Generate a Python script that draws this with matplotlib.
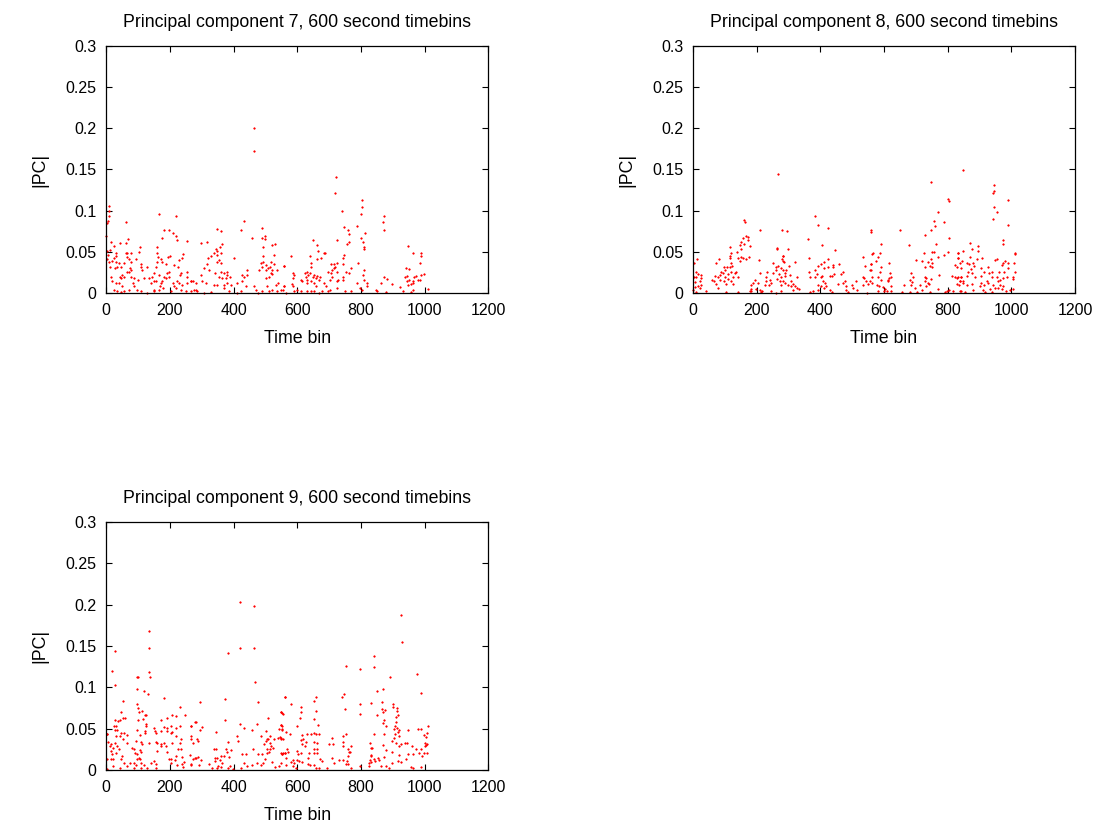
import numpy as np
import matplotlib
matplotlib.use("Agg")
import matplotlib.pyplot as plt

# (time bin, |PC|) pairs, one list per component
pc7_points = [
    (10, .106), (8, .100), (8, .094), (5, .088), (3, .085), (0, .069), (63, .086), (166, .096),
    (218, .093), (181, .077), (197, .076), (211, .073), (218, .069), (221, .064), (252, .063),
    (176, .067), (68, .066), (16, .062), (24, .057), (43, .061), (61, .061), (12, .052), (3, .051),
    (5, .046), (29, .048), (32, .045), (24, .042), (1, .041), (8, .038), (19, .039), (29, .038),
    (40, .036), (56, .037), (61, .048), (66, .049), (77, .048), (64, .044), (71, .041), (77, .038),
    (92, .041), (106, .056), (103, .050), (108, .035), (108, .032), (113, .028), (12, .032),
    (35, .032), (26, .030), (45, .032), (74, .030), (79, .028), (71, .026), (66, .025), (50, .022),
    (43, .020), (56, .020), (47, .018), (14, .020), (19, .015), (29, .012), (40, .012), (50, .008),
    (77, .020), (87, .018), (100, .016), (85, .012), (87, .008), (71, .004), (97, .004), (56, .002),
    (45, .001), (35, .002), (24, .004), (108, .002), (129, .000), (150, .002), (166, .004),
    (179, .006), (202, .002), (218, .006), (234, .004), (249, .002), (265, .002), (276, .004),
    (255, .012), (265, .015), (239, .010), (228, .012), (223, .014), (208, .012), (213, .008),
    (145, .020), (150, .024), (155, .032), (160, .038), (162, .044), (160, .056), (158, .048),
    (171, .041), (176, .038), (187, .035), (195, .044), (200, .045), (192, .024), (197, .026),
    (181, .020), (166, .022), (155, .015), (171, .012), (176, .014), (187, .018), (197, .020),
    (213, .034), (225, .032), (228, .040), (239, .042), (242, .047), (236, .024), (232, .022),
    (253, .026), (255, .020), (150, .014), (134, .018), (141, .012), (150, .004), (169, .008),
    (129, .032), (118, .018),
    (464, .200), (464, .172), (433, .087), (422, .076), (347, .078), (361, .075), (459, .067),
    (488, .079), (488, .067), (498, .069), (498, .065), (296, .061), (317, .062), (365, .059),
    (357, .056), (344, .054), (347, .051), (338, .048), (349, .046), (359, .048), (330, .045),
    (320, .043), (401, .043), (354, .040), (349, .038), (359, .036), (315, .035), (307, .030),
    (323, .028), (340, .024), (359, .026), (370, .024), (378, .026), (380, .022), (389, .020),
    (375, .018), (354, .020), (365, .018), (296, .022), (302, .014), (312, .012), (338, .010),
    (349, .010), (370, .010), (380, .012), (391, .010), (281, .004), (286, .002), (307, .000),
    (328, .001), (370, .006), (386, .002), (412, .000), (422, .002), (412, .012), (427, .014),
    (427, .022), (433, .020), (443, .022), (441, .028), (438, .008), (464, .008), (469, .004),
    (475, .000), (490, .002), (504, .008), (511, .002), (522, .004), (537, .002), (548, .004),
    (558, .008), (532, .010), (501, .018), (511, .020), (517, .024), (522, .028), (508, .030),
    (501, .028), (490, .032), (480, .028), (485, .036), (493, .038), (501, .034), (514, .032),
    (517, .038), (527, .035), (535, .028), (522, .023), (527, .046), (493, .045), (493, .056),
    (522, .058), (529, .059), (558, .033), (540, .012), (265, .014), (273, .015), (281, .012),
    (721, .141), (719, .122), (803, .113), (802, .105), (799, .096), (740, .100), (747, .080),
    (760, .077), (761, .072), (789, .081), (799, .067), (805, .062), (808, .056), (810, .053),
    (812, .073), (763, .062), (756, .060), (768, .030), (753, .026), (763, .024), (747, .046),
    (742, .042), (744, .035), (716, .035), (719, .032), (724, .064), (714, .030), (705, .024),
    (710, .020), (703, .016), (724, .014), (742, .020), (742, .016), (726, .006), (749, .002),
    (768, .002), (789, .012), (797, .006), (803, .004), (820, .012), (818, .008), (810, .016),
    (805, .022), (808, .028), (791, .037), (684, .048), (686, .049), (663, .058), (649, .064),
    (665, .051), (674, .042), (661, .041), (639, .045), (644, .037), (644, .032), (632, .026),
    (634, .022), (640, .024), (648, .020), (653, .022), (658, .018), (663, .021), (669, .016),
    (672, .020), (623, .024), (627, .020), (630, .016), (616, .015), (611, .016), (632, .012),
    (642, .014), (653, .012), (658, .008), (684, .012), (689, .008), (679, .002), (695, .002),
    (703, .004), (669, .000), (653, .002), (642, .002), (632, .002), (611, .002), (600, .004),
    (590, .002), (585, .008), (583, .011), (588, .018), (588, .024), (590, .022), (579, .045),
    (558, .033), (558, .008), (556, .004), (564, .000), (724, .026), (728, .016), (710, .028),
    (695, .026), (705, .035), (726, .036),
    (871, .094), (868, .086), (873, .076), (948, .057), (965, .049), (988, .049), (988, .045),
    (985, .037), (943, .030), (952, .029), (873, .020), (881, .017), (862, .012), (897, .011),
    (847, .004), (849, .002), (878, .001), (922, .007), (931, .003), (938, .020), (946, .021),
    (944, .015), (952, .016), (957, .011), (962, .012), (964, .015), (967, .020), (972, .021),
    (978, .016), (986, .016), (988, .022), (997, .023), (962, .004), (957, .001), (948, .010),
    (1011, .005),
]

pc8_points = [
    (267, .144), (160, .089), (162, .086), (211, .076), (280, .076), (167, .069), (173, .068),
    (157, .067), (173, .064), (152, .062), (160, .060), (146, .058), (178, .057), (115, .056),
    (150, .054), (139, .050), (118, .048), (152, .044), (157, .043), (141, .042), (167, .041),
    (146, .039), (117, .045), (115, .042), (175, .044), (265, .055), (265, .053), (283, .045),
    (281, .039), (12, .041), (81, .041), (71, .037), (3, .037), (206, .040), (120, .037),
    (123, .033), (108, .032), (115, .031), (97, .031), (99, .028), (118, .026), (136, .026),
    (131, .024), (110, .023), (94, .024), (87, .025), (84, .022), (78, .020), (70, .021),
    (101, .020), (125, .020), (141, .020), (110, .017), (97, .015), (102, .011), (84, .016),
    (73, .011), (66, .015), (59, .016), (120, .014), (125, .011), (10, .026), (15, .023),
    (24, .022), (26, .018), (10, .019), (3, .020), (5, .013), (21, .014), (26, .010), (15, .009),
    (5, .007), (21, .006), (0, .004), (10, .001), (42, .002), (78, .006), (105, .001), (141, .001),
    (178, .002), (183, .003), (199, .005), (209, .004), (217, .003), (212, .001), (188, .012),
    (183, .010), (194, .016), (204, .012), (209, .024), (225, .010), (230, .014), (230, .020),
    (233, .026), (241, .016), (238, .010), (246, .012), (251, .024), (251, .036), (259, .032),
    (262, .028), (267, .033), (269, .023), (265, .017), (272, .015), (277, .010), (259, .000),
    (246, .002), (283, .028), (183, .005),
    (384, .094), (391, .082), (424, .079), (296, .075), (361, .065), (406, .058), (298, .053),
    (445, .052), (363, .042), (560, .076), (558, .074), (564, .048), (534, .044), (282, .045),
    (285, .038), (280, .041), (319, .038), (302, .033), (424, .041), (412, .038), (403, .035),
    (391, .033), (440, .034), (440, .032), (458, .035), (424, .031), (412, .030), (363, .026),
    (382, .028), (388, .023), (401, .020), (405, .021), (429, .021), (435, .021), (443, .023),
    (464, .023), (471, .026), (382, .020), (367, .020), (291, .028), (277, .030), (288, .024),
    (275, .020), (290, .021), (304, .022), (325, .020), (283, .014), (288, .012), (309, .014),
    (314, .011), (309, .008), (319, .008), (325, .006), (332, .005), (314, .004), (298, .010),
    (275, .002), (367, .001), (377, .003), (391, .010), (391, .004), (403, .008), (408, .014),
    (414, .012), (419, .009), (412, .006), (429, .004), (435, .001), (456, .011), (471, .012),
    (477, .014), (479, .009), (482, .004), (487, .001), (500, .010), (503, .006), (511, .014),
    (516, .004), (534, .020), (537, .018), (542, .014), (548, .011), (555, .014), (534, .010),
    (545, .000), (560, .035), (556, .028), (563, .020), (539, .033),
    (849, .149), (747, .135), (802, .114), (804, .112), (768, .098), (758, .088), (789, .086),
    (760, .081), (749, .076), (649, .076), (728, .071), (804, .067), (590, .060), (678, .058),
    (762, .059), (757, .050), (752, .050), (726, .049), (802, .050), (833, .049), (849, .051),
    (563, .047), (581, .044), (587, .049), (576, .039), (768, .044), (789, .046), (747, .041),
    (700, .040), (720, .039), (739, .038), (751, .036), (744, .033), (730, .032), (751, .031),
    (833, .042), (838, .036), (822, .034), (828, .032), (841, .030), (558, .035), (560, .028),
    (590, .032), (615, .037), (587, .025), (581, .020), (590, .016), (563, .012), (579, .010),
    (584, .008), (597, .007), (602, .005), (608, .002), (600, .002), (615, .018), (618, .024),
    (621, .020), (613, .016), (613, .014), (623, .009), (621, .003), (581, .003), (663, .010),
    (655, .001), (681, .016), (681, .001), (686, .024), (691, .020), (688, .013), (684, .010),
    (697, .006), (702, .001), (712, .010), (718, .004), (728, .020), (733, .018), (730, .014),
    (737, .012), (733, .009), (741, .011), (749, .017), (744, .001), (770, .005), (772, .022),
    (791, .001), (799, .002), (804, .004), (812, .021), (822, .020), (828, .018), (833, .020),
    (838, .014), (828, .011), (835, .010), (843, .020), (847, .014), (841, .002), (817, .003),
    (946, .131), (946, .124), (943, .122), (988, .113), (946, .104), (954, .098), (943, .090),
    (988, .082), (974, .064), (974, .059), (870, .061), (896, .057), (894, .051), (875, .053),
    (833, .049), (908, .043), (1011, .048), (1011, .047), (870, .044), (891, .041), (954, .041),
    (948, .040), (980, .039), (846, .039), (859, .036), (868, .035), (880, .036), (833, .042),
    (974, .036), (969, .034), (990, .036), (1009, .037), (925, .032), (906, .030), (883, .033),
    (873, .029), (864, .026), (875, .024), (859, .021), (885, .020), (904, .021), (915, .025),
    (929, .024), (938, .026), (961, .025), (978, .025), (990, .030), (974, .018), (938, .020),
    (954, .020), (964, .016), (985, .020), (1006, .019), (1011, .026), (1006, .017), (843, .020),
    (838, .014), (849, .012), (862, .010), (877, .011), (906, .012), (915, .010), (927, .012),
    (922, .014), (943, .010), (959, .014), (964, .010), (974, .009), (948, .006), (959, .006),
    (969, .005), (932, .005), (912, .004), (917, .001), (880, .004), (854, .001), (838, .002),
    (982, .002), (995, .004), (1006, .005), (901, .008), (940, .001),
]

pc9_points = [
    (134, .168), (134, .147), (27, .144), (17, .120), (134, .118), (137, .113), (27, .103),
    (97, .112), (100, .112), (95, .098), (118, .096), (132, .092), (181, .087), (53, .084),
    (97, .080), (100, .075), (113, .071), (47, .070), (232, .076), (103, .070), (121, .067),
    (124, .066), (116, .062), (53, .063), (58, .063), (26, .060), (37, .059), (43, .060),
    (171, .061), (192, .063), (207, .066), (218, .065), (246, .066), (100, .060), (32, .053),
    (24, .053), (124, .056), (126, .053), (150, .051), (181, .052), (190, .051), (202, .053),
    (220, .051), (232, .053), (265, .053), (281, .058), (1, .044), (3, .043), (26, .049),
    (35, .049), (43, .041), (47, .045), (56, .045), (64, .042), (53, .038), (32, .041), (95, .049),
    (106, .042), (121, .047), (121, .045), (152, .047), (155, .045), (171, .047), (192, .047),
    (202, .045), (207, .046), (218, .041), (234, .038), (232, .033), (207, .033), (181, .033),
    (160, .033), (155, .034), (134, .033), (108, .034), (113, .031), (92, .035), (66, .033),
    (5, .034), (14, .031), (26, .033), (35, .029), (22, .027), (12, .029), (40, .025), (14, .023),
    (29, .021), (19, .019), (14, .013), (1, .013), (22, .013), (50, .017), (45, .013), (82, .027),
    (87, .026), (89, .021), (97, .019), (106, .024), (110, .022), (102, .015), (95, .013),
    (106, .013), (87, .009), (76, .008), (66, .005), (57, .008), (43, .003), (22, .005), (3, .001),
    (108, .009), (118, .006), (139, .008), (150, .011), (155, .007), (158, .023), (171, .031),
    (173, .029), (187, .029), (192, .022), (197, .013), (204, .013), (215, .012), (218, .017),
    (225, .026), (234, .025), (239, .016), (244, .010), (239, .007), (263, .018), (265, .006),
    (273, .013), (279, .015), (92, .006), (87, .003), (108, .003), (129, .002), (155, .002),
    (202, .009), (223, .006), (242, .004),
    (420, .203), (464, .199), (420, .148), (464, .147), (383, .141), (466, .106), (373, .086),
    (294, .082), (477, .082), (562, .088), (548, .070), (553, .069), (509, .063), (279, .058),
    (373, .061), (419, .056), (472, .056), (550, .055), (302, .052), (294, .049), (433, .051),
    (459, .048), (543, .050), (553, .050), (564, .046), (265, .053), (346, .046), (501, .047),
    (514, .041), (412, .041), (487, .041), (504, .038), (286, .037), (288, .035), (265, .037),
    (273, .033), (501, .035), (508, .037), (496, .031), (514, .033), (527, .037), (540, .039),
    (546, .040), (548, .039), (414, .035), (382, .034), (506, .025), (511, .022), (504, .020),
    (514, .025), (517, .029), (525, .027), (462, .025), (475, .019), (490, .019), (498, .013),
    (493, .009), (487, .006), (344, .026), (338, .025), (375, .025), (378, .022), (391, .024),
    (370, .017), (361, .017), (349, .015), (341, .015), (340, .011), (357, .012), (364, .008),
    (349, .003), (359, .004), (351, .005), (386, .016), (388, .005), (288, .016), (296, .012),
    (281, .014), (323, .007), (333, .003), (291, .006), (267, .007), (427, .019), (438, .019),
    (433, .008), (422, .003), (441, .005), (459, .006), (472, .009), (522, .010), (530, .004),
    (548, .009), (553, .019), (562, .021), (556, .021), (543, .005), (564, .015), (267, .041),
    (382, .003), (399, .001),
    (841, .138), (841, .125), (752, .126), (797, .122), (747, .092), (740, .088), (562, .088),
    (658, .088), (653, .084), (579, .080), (797, .080), (831, .081), (750, .074), (611, .076),
    (611, .070), (658, .071), (548, .070), (556, .068), (796, .068), (609, .063), (653, .062),
    (666, .055), (600, .053), (550, .055), (553, .049), (577, .044), (548, .037), (616, .042),
    (619, .037), (613, .036), (632, .043), (642, .044), (651, .045), (658, .044), (669, .043),
    (710, .039), (742, .041), (752, .044), (616, .031), (627, .034), (623, .029), (651, .034),
    (663, .033), (651, .026), (663, .026), (663, .020), (653, .021), (637, .021), (713, .031),
    (700, .031), (742, .034), (745, .029), (758, .025), (763, .022), (770, .029), (829, .033),
    (833, .027), (831, .018), (829, .012), (826, .009), (841, .013), (569, .025), (572, .022),
    (561, .021), (553, .019), (548, .020), (600, .023), (602, .019), (613, .021), (598, .012),
    (606, .011), (616, .010), (590, .009), (585, .012), (579, .010), (564, .006), (585, .005),
    (595, .002), (635, .015), (634, .007), (640, .006), (653, .006), (658, .003), (669, .003),
    (672, .013), (679, .011), (693, .002), (710, .014), (716, .008), (731, .012), (742, .012),
    (752, .007), (760, .007), (755, .011), (758, .017), (766, .022), (770, .002), (797, .005),
    (826, .005), (556, .037), (553, .053),
    (927, .187), (928, .155), (976, .116), (892, .112), (990, .093), (849, .096), (870, .098),
    (865, .082), (901, .080), (902, .076), (913, .075), (876, .073), (865, .074), (913, .071),
    (870, .070), (850, .067), (917, .066), (910, .064), (871, .061), (910, .058), (868, .057),
    (878, .053), (906, .053), (904, .050), (913, .051), (920, .049), (915, .046), (948, .049),
    (978, .050), (990, .050), (1011, .053), (1007, .045), (907, .043), (904, .039), (921, .041),
    (997, .042), (1004, .040), (841, .043), (873, .043), (899, .035), (910, .033), (925, .031),
    (939, .033), (944, .033), (959, .029), (1001, .033), (1004, .030), (1001, .029), (1007, .031),
    (868, .030), (920, .029), (834, .027), (880, .024), (899, .022), (972, .026), (988, .026),
    (999, .021), (993, .017), (1009, .021), (983, .021), (949, .019), (962, .019), (941, .013),
    (920, .018), (873, .016), (852, .015), (831, .017), (845, .011), (857, .012), (833, .010),
    (899, .008), (915, .011), (925, .010), (862, .005), (878, .005), (889, .003), (957, .004),
    (964, .002), (990, .004),
]

panels = [
    ("Principal component 7, 600 second timebins", pc7_points),
    ("Principal component 8, 600 second timebins", pc8_points),
    ("Principal component 9, 600 second timebins", pc9_points),
]

x_ticks = [0, 200, 400, 600, 800, 1000, 1200]
y_ticks = [0, 0.05, 0.1, 0.15, 0.2, 0.25, 0.3]
y_labels = ["0", "0.05", "0.1", "0.15", "0.2", "0.25", "0.3"]

plt.rcParams["font.family"] = ["Liberation Sans", "DejaVu Sans"]

fig = plt.figure(figsize=(11.05, 8.27), dpi=100)

# axes boxes in figure fractions (left, bottom, width, height)
boxes = [
    (0.0962, 0.6457, 0.3457, 0.2987),
    (0.6272, 0.6457, 0.3457, 0.2987),
    (0.0962, 0.0689, 0.3457, 0.2999),
]

for (title, pts), box in zip(panels, boxes):
    ax = fig.add_axes(box)
    t, v = np.array(pts).T
    ax.plot(t, v, linestyle="none", marker="+", markersize=2.0,
            markeredgewidth=0.9, color="#ff0000", clip_on=False)

    ax.set_xlim(0, 1200)
    ax.set_ylim(0, 0.3)
    ax.set_xticks(x_ticks)
    ax.set_xticklabels([str(x) for x in x_ticks])
    ax.set_yticks(y_ticks)
    ax.set_yticklabels(y_labels)
    ax.tick_params(direction="in", length=4, width=0.8, top=True, right=True,
                   labelsize=11.5, pad=7)
    for s in ax.spines.values():
        s.set_linewidth(0.9)

    ax.set_title(title, fontsize=12.8, pad=14)
    ax.set_xlabel("Time bin", fontsize=12.8, labelpad=9)
    ax.set_ylabel("|PC|", fontsize=12.8, labelpad=12)

fig.savefig("out.png", dpi=100, facecolor="white")
plt.close(fig)
